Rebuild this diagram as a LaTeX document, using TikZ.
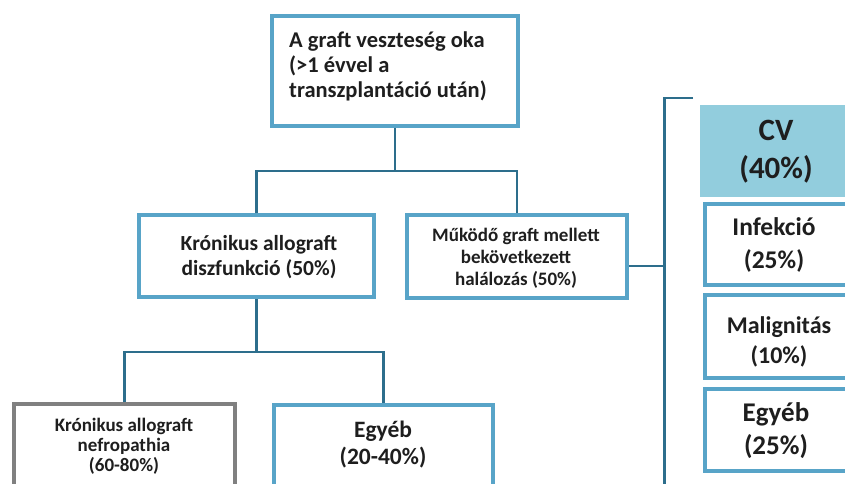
\documentclass[tikz,border=0pt]{standalone}
\usepackage{fontspec}
\setmainfont{Carlito}
\definecolor{boxblue}{RGB}{88,164,200}
\definecolor{connblue}{RGB}{45,110,140}
\definecolor{cvfill}{RGB}{146,205,221}
\definecolor{graybd}{RGB}{128,128,128}
\definecolor{txt}{RGB}{30,30,30}
\begin{document}
\begin{tikzpicture}[x=1pt,y=-1pt,
  box/.style={draw=boxblue, line width=3.5pt, fill=white, inner sep=0pt},
  graybox/.style={draw=graybd, line width=3.5pt, fill=white, inner sep=0pt},
  cvbox/.style={draw=none, fill=cvfill, inner sep=0pt},
  lbl/.style={inner sep=0pt, text=txt, align=center},
  conn/.style={draw=connblue, line width=2.2pt}]
\useasboundingbox (0,0) rectangle (845,484);
\clip (0,0) rectangle (845,484);
\fill[white] (0,0) rectangle (845,484);

% boxes
\node[box, minimum width=246pt, minimum height=110pt] (top) at (395,71) {};
\node[box, minimum width=235pt, minimum height=82pt] (kad) at (256.5,256) {};
\node[box, minimum width=220pt, minimum height=83pt] (mgm) at (517,256.5) {};
\node[graybox, minimum width=221pt, minimum height=112pt] (kan) at (124.5,460) {};
\node[box, minimum width=219pt, minimum height=110pt] (egyA) at (383.5,460) {};
\node[cvbox, minimum width=156pt, minimum height=92pt] (cv) at (778,151) {};
\node[box, minimum width=147pt, minimum height=81pt] (inf) at (778.5,244.5) {};
\node[box, minimum width=147pt, minimum height=83pt] (mal) at (778.5,336.5) {};
\node[box, minimum width=147pt, minimum height=82pt] (egyB) at (778.5,430) {};

% texts
\node[lbl, anchor=west, align=left, font=\bfseries\fontsize{22.5}{25}\selectfont] (toptxt) at (289,66)
  {A graft veszteség oka\\(>1 évvel a\\transzplantáció után)};
\node[lbl, font=\bfseries\fontsize{21.5}{25}\selectfont] (kadtxt) at (259,257)
  {Krónikus allograft\\diszfunkció (50\%)};
\node[lbl, font=\bfseries\fontsize{19}{22}\selectfont] (mgmtxt) at (516,258)
  {Működő graft mellett\\bekövetkezett\\halálozás (50\%)};
\node[lbl, font=\bfseries\fontsize{19}{20}\selectfont] (kantxt) at (124,446)
  {Krónikus allograft\\nefropathia\\(60-80\%)};
\node[lbl, font=\bfseries\fontsize{23.5}{27}\selectfont] (egyAtxt) at (383,445)
  {Egyéb\\(20-40\%)};
\node[lbl, font=\bfseries\fontsize{31}{38}\selectfont] (cvtxt) at (776,152)
  {CV\\(40\%)};
\node[lbl, font=\bfseries\fontsize{25.5}{33}\selectfont] (inftxt) at (774,244.5)
  {Infekció\\(25\%)};
\node[lbl, font=\bfseries\fontsize{24}{30}\selectfont] (maltxt) at (779,342)
  {Malignitás\\(10\%)};
\node[lbl, font=\bfseries\fontsize{27}{33}\selectfont] (egyBtxt) at (776,431)
  {Egyéb\\(25\%)};

% connectors
\coordinate (j1) at (395,171);
\coordinate (j2) at (256.5,352);
\coordinate (j3) at (664.5,266);
\coordinate (brT) at (664.5,98);
\coordinate (brE) at (693,98);
\coordinate (brB) at (664.5,490);

\draw[conn] (top.south) -- (j1);
\draw[conn] (kad.north) |- (j1) -| (mgm.north);
\draw[conn] (kad.south) -- (j2);
\draw[conn] (kan.north) |- (j2) -| (egyA.north);
\draw[conn] (mgm.east |- j3) -- (j3);
\draw[conn] (brE) -- (brT) -- (brB);
\end{tikzpicture}
\end{document}
